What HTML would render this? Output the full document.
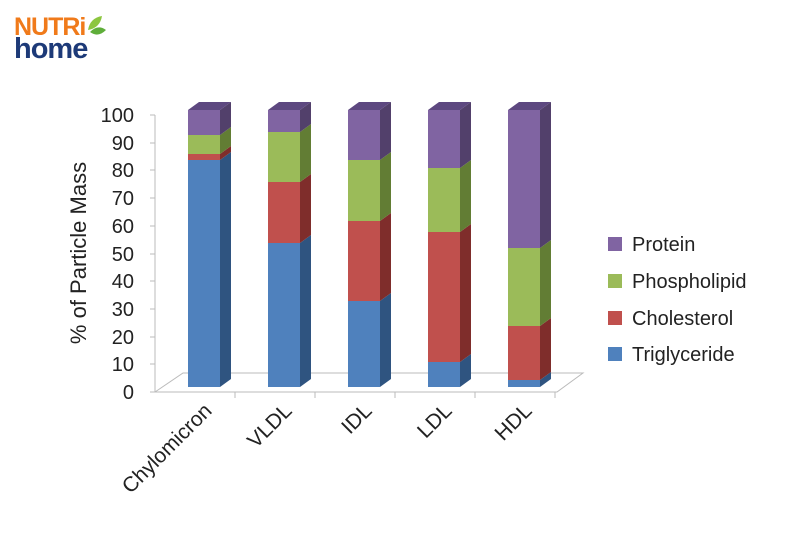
<!DOCTYPE html><html><head><style>body{margin:0;background:#fff}svg text{font-family:"Liberation Sans",sans-serif}</style></head><body>
<svg width="800" height="535" xmlns="http://www.w3.org/2000/svg">
<text x="14" y="35" font-size="25" font-weight="bold" fill="#f07a1a" letter-spacing="-1">NUTRi</text>
<path d="M88 30 q2-12 14-14 q-2 12-14 14z" fill="#8cc63f"/><path d="M90 32 q8-8 16-2 q-8 8-16 2z" fill="#5fae3a"/>
<text x="14" y="58" font-size="29" font-weight="bold" fill="#1d3a78" letter-spacing="-1">home</text>
<g stroke="#bbb" fill="none">
<line x1="155" y1="115" x2="155" y2="392"/>
<polyline points="155,392 183,373 583,373 557,392 155,392"/>
</g>
<g stroke="#bbb">
<line x1="150" y1="115" x2="155" y2="115"/><line x1="150" y1="143" x2="155" y2="143"/><line x1="150" y1="170" x2="155" y2="170"/><line x1="150" y1="198" x2="155" y2="198"/><line x1="150" y1="226" x2="155" y2="226"/><line x1="150" y1="254" x2="155" y2="254"/><line x1="150" y1="281" x2="155" y2="281"/><line x1="150" y1="309" x2="155" y2="309"/><line x1="150" y1="337" x2="155" y2="337"/><line x1="150" y1="364" x2="155" y2="364"/><line x1="150" y1="392" x2="155" y2="392"/>
<line x1="235" y1="392" x2="235" y2="398"/><line x1="315" y1="392" x2="315" y2="398"/><line x1="395" y1="392" x2="395" y2="398"/><line x1="475" y1="392" x2="475" y2="398"/><line x1="555" y1="392" x2="555" y2="398"/>
</g>
<g font-size="20" fill="#222" text-anchor="end">
<text x="134" y="122">100</text><text x="134" y="150">90</text><text x="134" y="177">80</text><text x="134" y="205">70</text><text x="134" y="233">60</text><text x="134" y="261">50</text><text x="134" y="288">40</text><text x="134" y="316">30</text><text x="134" y="344">20</text><text x="134" y="371">10</text><text x="134" y="399">0</text>
</g>
<text transform="translate(86,253) rotate(-90)" font-size="22" fill="#222" text-anchor="middle">% of Particle Mass</text>

<rect x="188" y="160" width="32" height="227" fill="#4f81bd"/><polygon points="220,387 231,379 231,152 220,160" fill="#2f5480"/>
<rect x="188" y="154" width="32" height="6" fill="#c0504d"/><polygon points="220,160 231,152 231,146 220,154" fill="#7f2d2b"/>
<rect x="188" y="135" width="32" height="19" fill="#9bbb59"/><polygon points="220,154 231,146 231,127 220,135" fill="#627d34"/>
<rect x="188" y="110" width="32" height="25" fill="#8064a2"/><polygon points="220,135 231,127 231,102 220,110" fill="#52406b"/>
<polygon points="188,110 199,102 231,102 220,110" fill="#5d4880"/>
<rect x="268" y="243" width="32" height="144" fill="#4f81bd"/><polygon points="300,387 311,379 311,235 300,243" fill="#2f5480"/>
<rect x="268" y="182" width="32" height="61" fill="#c0504d"/><polygon points="300,243 311,235 311,174 300,182" fill="#7f2d2b"/>
<rect x="268" y="132" width="32" height="50" fill="#9bbb59"/><polygon points="300,182 311,174 311,124 300,132" fill="#627d34"/>
<rect x="268" y="110" width="32" height="22" fill="#8064a2"/><polygon points="300,132 311,124 311,102 300,110" fill="#52406b"/>
<polygon points="268,110 279,102 311,102 300,110" fill="#5d4880"/>
<rect x="348" y="301" width="32" height="86" fill="#4f81bd"/><polygon points="380,387 391,379 391,293 380,301" fill="#2f5480"/>
<rect x="348" y="221" width="32" height="80" fill="#c0504d"/><polygon points="380,301 391,293 391,213 380,221" fill="#7f2d2b"/>
<rect x="348" y="160" width="32" height="61" fill="#9bbb59"/><polygon points="380,221 391,213 391,152 380,160" fill="#627d34"/>
<rect x="348" y="110" width="32" height="50" fill="#8064a2"/><polygon points="380,160 391,152 391,102 380,110" fill="#52406b"/>
<polygon points="348,110 359,102 391,102 380,110" fill="#5d4880"/>
<rect x="428" y="362" width="32" height="25" fill="#4f81bd"/><polygon points="460,387 471,379 471,354 460,362" fill="#2f5480"/>
<rect x="428" y="232" width="32" height="130" fill="#c0504d"/><polygon points="460,362 471,354 471,224 460,232" fill="#7f2d2b"/>
<rect x="428" y="168" width="32" height="64" fill="#9bbb59"/><polygon points="460,232 471,224 471,160 460,168" fill="#627d34"/>
<rect x="428" y="110" width="32" height="58" fill="#8064a2"/><polygon points="460,168 471,160 471,102 460,110" fill="#52406b"/>
<polygon points="428,110 439,102 471,102 460,110" fill="#5d4880"/>
<rect x="508" y="380" width="32" height="7" fill="#4f81bd"/><polygon points="540,387 551,379 551,372 540,380" fill="#2f5480"/>
<rect x="508" y="326" width="32" height="54" fill="#c0504d"/><polygon points="540,380 551,372 551,318 540,326" fill="#7f2d2b"/>
<rect x="508" y="248" width="32" height="78" fill="#9bbb59"/><polygon points="540,326 551,318 551,240 540,248" fill="#627d34"/>
<rect x="508" y="110" width="32" height="138" fill="#8064a2"/><polygon points="540,248 551,240 551,102 540,110" fill="#52406b"/>
<polygon points="508,110 519,102 551,102 540,110" fill="#5d4880"/>

<g font-size="21" fill="#222" text-anchor="end">
<text transform="translate(213,412) rotate(-45)">Chylomicron</text>
<text transform="translate(293,412) rotate(-45)">VLDL</text>
<text transform="translate(373,412) rotate(-45)">IDL</text>
<text transform="translate(453,412) rotate(-45)">LDL</text>
<text transform="translate(533,412) rotate(-45)">HDL</text>
</g>
<g font-size="20" fill="#222">
<rect x="608" y="237" width="14" height="14" fill="#8064a2"/><text x="632" y="251">Protein</text>
<rect x="608" y="274" width="14" height="14" fill="#9bbb59"/><text x="632" y="288">Phospholipid</text>
<rect x="608" y="311" width="14" height="14" fill="#c0504d"/><text x="632" y="325">Cholesterol</text>
<rect x="608" y="347" width="14" height="14" fill="#4f81bd"/><text x="632" y="361">Triglyceride</text>
</g>
</svg></body></html>
